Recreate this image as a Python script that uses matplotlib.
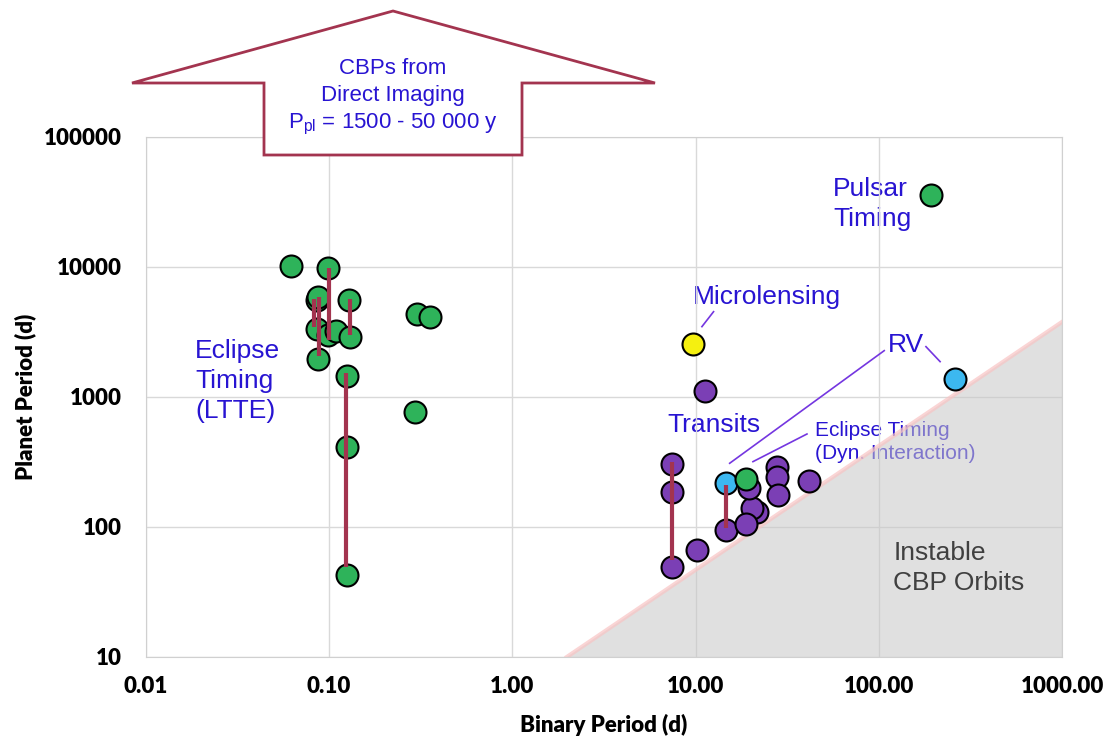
"""Circumbinary planets: planet period vs binary period, coloured by detection method."""
import matplotlib
matplotlib.use("Agg")
import matplotlib.pyplot as plt
from matplotlib.patches import Polygon

# eclipse timing (LTTE) detections, green
ltte_x = [0.062, 0.099, 0.0855, 0.087, 0.1285, 0.302, 0.356, 0.086, 0.0987, 0.109,
          0.13, 0.087, 0.125, 0.294, 0.125, 0.125]
ltte_y = [10200, 9800, 5600, 5880, 5570, 4350, 4120, 3340, 3000, 3220,
          2900, 1960, 1450, 767, 410, 43]
# other green ones: eclipse timing (dyn. interaction) and pulsar timing
green_x = [18.67, 192]
green_y = [234, 35800]
# transits, purple
tr_x = [7.43, 7.43, 7.43, 10.1, 11.25, 14.6, 21.5, 20.2, 18.8, 19.6, 27.9, 27.9, 28.2, 41.2]
tr_y = [303, 187, 49.5, 66.5, 1112, 94.8, 131, 139, 105, 199, 290, 244, 176, 227]
# radial velocity, cyan
rv_x = [14.6, 258]
rv_y = [217, 1375]
# microlensing, yellow
ml_x = [9.71]
ml_y = [2543]

# vertical links between planets of the same system
link_x = [0.0832, 0.0882, 0.0998, 0.1307, 0.1234, 7.43, 14.6]
link_lo = [3455, 2070, 2745, 3000, 49, 55.7, 98]
link_hi = [5675, 5880, 9900, 5675, 1530, 315, 210]

# instability limit (binary period, planet period)
lim_x = [1.98, 1000]
lim_y = [10, 3800]

BLUE = "#2814d2"
RED = "#a3344f"
VIOLET = "#7436e0"
SANS = "Liberation Sans"

fig = plt.figure(figsize=(11.1, 7.38), dpi=100)
ax = fig.add_axes([0.1313, 0.1098, 0.8259, 0.7046])
ax.set_xscale("log")
ax.set_yscale("log")
ax.set_xlim(0.01, 1000)
ax.set_ylim(10, 100000)

ax.grid(True, which="major", color="#d9d9d9", lw=1.0, zorder=0)
ax.minorticks_off()
ax.tick_params(length=0, pad=14)
for s in ax.spines.values():
    s.set_color("#d0d0d0")

ax.set_xticks([0.01, 0.1, 1, 10, 100, 1000])
ax.set_xticklabels(["0.01", "0.10", "1.00", "10.00", "100.00", "1000.00"])
ax.set_yticks([10, 100, 1000, 10000, 100000])
ax.set_yticklabels(["10", "100", "1000", "10000", "100000"])
for lab in ax.get_xticklabels() + ax.get_yticklabels():
    lab.set_fontfamily("Lato")
    lab.set_fontweight("heavy")
    lab.set_fontsize(16)
ax.tick_params(axis="y", pad=17)
ax.set_xlabel("Binary Period (d)", fontfamily="Lato", fontweight="heavy", fontsize=16, labelpad=12)
ax.set_ylabel("Planet Period (d)", fontfamily="Lato", fontweight="heavy", fontsize=16, labelpad=6)

# unstable region
ax.fill([lim_x[0], lim_x[1], lim_x[1]], [lim_y[0], lim_y[1], 10], color="#c8c8c8",
        alpha=0.55, lw=0, zorder=2)
ax.plot(lim_x, lim_y, color="#f8c4c4", lw=3, alpha=0.7, zorder=2)

mk = dict(s=250, edgecolors="black", linewidths=1.5)
ax.scatter(tr_x, tr_y, color="#7b3fb5", zorder=3, **mk)
ax.scatter(ml_x, ml_y, color="#f5f010", zorder=3, **mk)
ax.scatter(rv_x, rv_y, color="#3cb8f0", zorder=4, **mk)
ax.scatter(ltte_x, ltte_y, color="#2eb35a", zorder=5, **mk)
ax.scatter(green_x, green_y, color="#2eb35a", zorder=5, **mk)
ax.vlines(link_x, link_lo, link_hi, color=RED, lw=3, zorder=6)

# labels and connectors
txt = dict(color=BLUE, fontfamily=SANS, fontsize=19, ha="left", ma="left",
           va="center", linespacing=1.3, zorder=1.5)
ax.text(56, 30500, "Pulsar\nTiming", **txt)
ax.text(9.66, 5880, "Microlensing", **txt)
ax.text(0.0186, 1330, "Eclipse\nTiming\n(LTTE)", **txt)
ax.text(6.97, 609, "Transits", **txt)
ax.text(112, 2512, "RV", **txt)
ax.text(44.8, 451, "Eclipse Timing\n(Dyn. Interaction)", color=BLUE, fontfamily=SANS,
        fontsize=15, ha="left", ma="left", va="center", linespacing=1.25, zorder=1.5)
ax.text(119.5, 48.4, "Instable\nCBP Orbits", color="#404040", fontfamily=SANS,
        fontsize=19, ha="left", ma="left", va="center", linespacing=1.3, zorder=2.5)

conn = dict(color=VIOLET, lw=1.2, zorder=3)
ax.plot([10.8, 12.5], [3475, 4530], **conn)
ax.plot([15.3, 106.6], [309, 2272], **conn)
ax.plot([180, 215], [2438, 1870], **conn)
ax.plot([20.5, 40.4], [318, 519], **conn)

# "CBPs from Direct Imaging" arrow above the plot (figure pixels)
W, H = 1110, 738
house = [(393, 11), (655, 83), (522, 83), (522, 155), (264, 155), (264, 83), (132, 83)]
fig.patches.append(Polygon([(x / W, 1 - y / H) for x, y in house], closed=True,
                           transform=fig.transFigure, facecolor="white",
                           edgecolor=RED, lw=2, zorder=10))
for line, y in [("CBPs from", 69), ("Direct Imaging", 96),
                (r"P$_\mathregular{pl}$ = 1500 - 50 000 y", 124)]:
    fig.text(393 / W, 1 - y / H, line, color=BLUE, fontfamily=SANS, fontsize=16,
             ha="center", va="center", zorder=11)

fig.savefig("out.png", dpi=100)
